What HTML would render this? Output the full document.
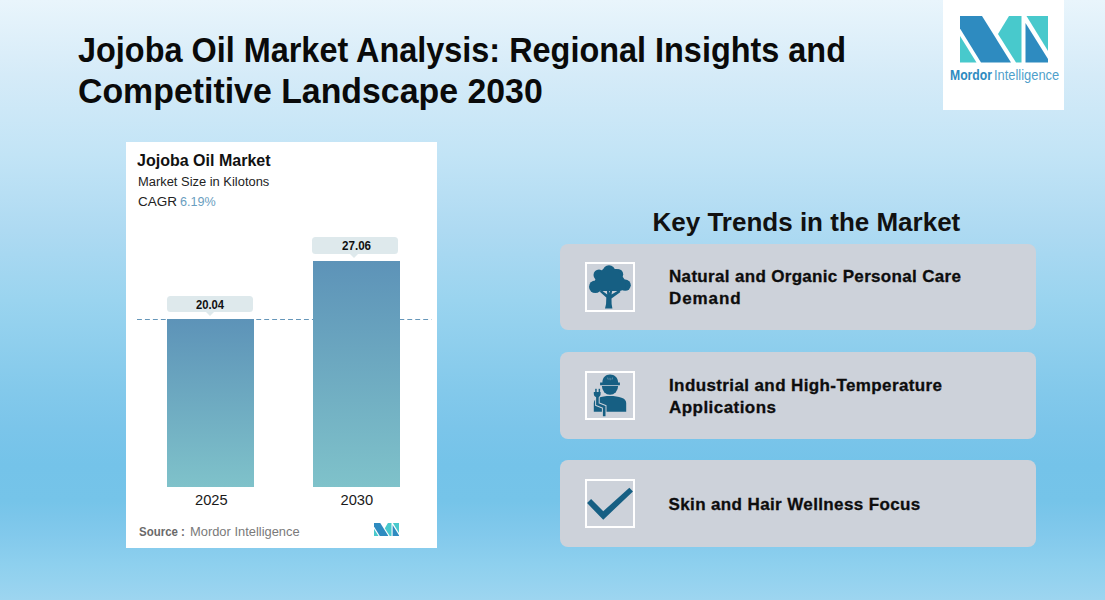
<!DOCTYPE html>
<html><head><meta charset="utf-8">
<style>
html,body{margin:0;padding:0}
body{width:1105px;height:600px;overflow:hidden;position:relative;font-family:"Liberation Sans",sans-serif;
background:linear-gradient(to bottom,#e9f5fc 0px,#d5ebf8 75px,#c2e4f6 155px,#aedaf2 230px,#9ad4ef 300px,#83c9eb 390px,#7bc5ea 427px,#74c3e9 465px,#75c4e9 500px,#7bc6ea 516px,#82c9ec 535px,#8ed0ee 565px,#9dd5f0 600px);}
.t{position:absolute;white-space:nowrap;line-height:1;transform-origin:0 0}
.b{font-weight:bold}
#title1{left:78.3px;top:32.7px;transform:scaleX(0.9375);font-size:34.6px;font-weight:bold;color:#0a0a0a}
#title2{left:78.3px;top:73.9px;transform:scaleX(0.979);font-size:34.6px;font-weight:bold;color:#0a0a0a}
#logobox{position:absolute;left:943px;top:0;width:121px;height:110px;background:#fff}
#card{position:absolute;left:126px;top:141.5px;width:311px;height:406px;background:#fff}
.bar{position:absolute;background:linear-gradient(to bottom,#5d93b8,#7fc2ca)}
.lbl{position:absolute;background:#dee9ec;border-radius:3.5px}
.ptr{position:absolute;width:0;height:0;border-left:4px solid transparent;border-right:4px solid transparent;border-top:4px solid #dee9ec}
.tcard{position:absolute;left:560px;width:476px;background:#cdd2da;border-radius:8px}
.ibox{position:absolute;left:585px;width:46px;height:45px;border:2px solid #fff}
.ct{font-size:17px;font-weight:bold;color:#0d0d0d;-webkit-text-stroke:0.3px #0d0d0d}
</style></head><body>
<div class="t" id="title1">Jojoba Oil Market Analysis: Regional Insights and</div>
<div class="t" id="title2">Competitive Landscape 2030</div>

<div id="logobox"></div>
<svg style="position:absolute;left:0;top:0" width="1105" height="110">
  <g>
    <polygon fill="#2e8bc0" points="960,16 982,16 1011,62.5 981,62.5 960,28.5"/>
    <polygon fill="#48c9cc" points="960,36 960,62.5 976.5,62.5"/>
    <polygon fill="#48c9cc" points="1009,16 1021.5,16 1021.5,62.5 1016,62.5 998,34"/>
    <polygon fill="#2e8bc0" points="1025.5,23 1048,59 1048,62.5 1025.5,62.5"/>
    <polygon fill="#48c9cc" points="1026.5,16 1048,16 1048,51"/>
  </g>
</svg>
<div class="t b" style="left:949.5px;top:67.7px;font-size:14px;color:#2e8bc0;transform:scaleX(0.87)">Mordor</div>
<div class="t" style="left:993.5px;top:67.7px;font-size:14px;color:#4f9fcb;transform:scaleX(0.92)">Intelligence</div>

<div id="card"></div>
<div class="t b" style="left:137px;top:151.8px;font-size:17.3px;color:#111;transform:scaleX(0.927)">Jojoba Oil Market</div>
<div class="t" style="left:137.5px;top:174.8px;font-size:13.7px;color:#222;transform:scaleX(0.943)">Market Size in Kilotons</div>
<div class="t" style="left:137.5px;top:194.9px;font-size:13.7px;color:#222;transform:scaleX(0.986)">CAGR</div>
<div class="t" style="left:179.5px;top:194.9px;font-size:13.7px;color:#6a9ec0;transform:scaleX(0.92)">6.19%</div>

<svg style="position:absolute;left:0;top:0" width="1105" height="600">
  <line x1="137" y1="319.5" x2="431.5" y2="319.5" stroke="#6596b9" stroke-width="1.1" stroke-dasharray="4.9,3.05"/>
</svg>
<div class="bar" style="left:167px;top:319px;width:87px;height:168px"></div>
<div class="bar" style="left:312.5px;top:260.7px;width:87.5px;height:226.3px"></div>
<div class="lbl" style="left:167px;top:296px;width:86px;height:16.3px"></div>
<div class="ptr" style="left:206px;top:312.3px"></div>
<div class="lbl" style="left:311.5px;top:237.3px;width:86.3px;height:16.3px"></div>
<div class="ptr" style="left:350px;top:253.6px"></div>
<div class="t b" style="left:196.1px;top:299px;font-size:12.4px;color:#111;transform:scaleX(0.907)">20.04</div>
<div class="t b" style="left:341.8px;top:240px;font-size:12.4px;color:#111;transform:scaleX(0.938)">27.06</div>
<div class="t" style="left:195px;top:492.9px;font-size:14.7px;color:#1a1a1a">2025</div>
<div class="t" style="left:340.5px;top:492.9px;font-size:14.7px;color:#1a1a1a">2030</div>
<div class="t b" style="left:138.7px;top:525.2px;font-size:13.5px;color:#6a6a6a;transform:scaleX(0.85)">Source :</div>
<div class="t" style="left:190.3px;top:525.2px;font-size:13.5px;color:#7a7a7a;transform:scaleX(0.955)">Mordor Intelligence</div>
<svg style="position:absolute;left:374px;top:523px" width="25" height="13.25" viewBox="960 16 88 46.5">
    <polygon fill="#2e8bc0" points="960,16 982,16 1011,62.5 981,62.5 960,28.5"/>
    <polygon fill="#48c9cc" points="960,36 960,62.5 976.5,62.5"/>
    <polygon fill="#48c9cc" points="1009,16 1021.5,16 1021.5,62.5 1016,62.5 998,34"/>
    <polygon fill="#2e8bc0" points="1025.5,23 1048,59 1048,62.5 1025.5,62.5"/>
    <polygon fill="#48c9cc" points="1026.5,16 1048,16 1048,51"/>
</svg>

<div class="t b" style="left:652.5px;top:208.8px;font-size:26px;color:#111">Key Trends in the Market</div>

<div class="tcard" style="top:244px;height:85.5px"></div>
<svg style="position:absolute;left:583px;top:260px" width="54" height="54" viewBox="0 0 54 54">
<rect x="3" y="3" width="48" height="48" fill="none" stroke="#fff" stroke-width="2"/>
<g fill="#165f83">
<circle cx="26" cy="11.5" r="6.2"/><circle cx="16" cy="15" r="5.5"/><circle cx="35" cy="14.2" r="5.2"/>
<circle cx="12.3" cy="26.8" r="6.3"/><circle cx="42.2" cy="25.2" r="5.6"/>
<polygon points="12,20 20,9 34,9 42,20 43,29 37,31 19,31 12,30"/>
<path d="M22,48.6 L29.4,48.6 Q28.3,44 28.5,38.5 L37.5,32 L36,30 L28.5,34.5 L29.5,29 L27.5,29 L26.5,33 L25.5,29 L23.8,29 L24.2,34.5 L18.2,30 L16.8,31.8 L23.3,37.5 Q23.5,44 22,48.6 Z"/>
</g></svg>
<div class="t ct" style="left:669px;top:267.9px;letter-spacing:0.325px">Natural and Organic Personal Care</div>
<div class="t ct" style="left:669px;top:289.5px;letter-spacing:0.9px">Demand</div>

<div class="tcard" style="top:352.3px;height:86.7px"></div>
<svg style="position:absolute;left:583px;top:369px" width="54" height="54" viewBox="0 0 54 54">
<rect x="3" y="3" width="48" height="47" fill="none" stroke="#fff" stroke-width="2"/>
<g fill="#165f83">
<path d="M19.4,13.5 C19.4,8.5 22.5,5.4 27,5.4 C31.5,5.4 35.1,8.5 35.1,13.5 L36.9,13.5 L36.9,16.2 L17.1,16.2 L17.1,13.5 Z"/>
<path d="M18.9,17.1 L35.1,17.1 A8.1,8.6 0 0 1 18.9,17.1 Z"/>
<path d="M10.8,42.75 L10.8,34 C10.8,29 18,27 27,27 C36,27 43.2,29 43.2,34 L43.2,42.75 Z"/>
</g>
<g stroke="#8fa8ba" stroke-width="0.7" fill="none"><path d="M24.6,8.6 L25.2,10.6"/><path d="M27,8.9 L27.2,11.2"/><path d="M29.5,8.6 L29,10.6"/></g>
<polyline points="14.4,27 14.4,35.1 21.2,37.8 21.2,47.3" fill="none" stroke="#cdd2da" stroke-width="4.6"/>
<polyline points="14.4,27 14.4,35.1 21.2,37.8 21.2,47.3" fill="none" stroke="#165f83" stroke-width="2.6"/>
<g fill="#165f83">
<path d="M10.8,23 L17.6,23 L17.6,25 Q17.6,27.5 14.4,28.8 Q10.8,27.5 10.8,25 Z"/>
<rect x="12.2" y="19.8" width="1.5" height="3.6"/><rect x="15.6" y="19.8" width="1.5" height="3.6"/>
</g></svg>
<div class="t ct" style="left:669px;top:376.6px;letter-spacing:0.39px">Industrial and High-Temperature</div>
<div class="t ct" style="left:669px;top:398.6px;letter-spacing:0.45px">Applications</div>

<div class="tcard" style="top:460px;height:86.8px"></div>
<svg style="position:absolute;left:583px;top:477px" width="54" height="54" viewBox="0 0 54 54">
<rect x="3" y="3" width="48" height="47" fill="none" stroke="#fff" stroke-width="2"/>
<polygon fill="#165f83" points="4.05,26.1 8.1,22.05 20.25,34.2 46.35,10.8 49.95,14.4 20.25,42.75"/>
</svg>
<div class="t ct" style="left:668.5px;top:495.8px;letter-spacing:0.38px">Skin and Hair Wellness Focus</div>

</body></html>
